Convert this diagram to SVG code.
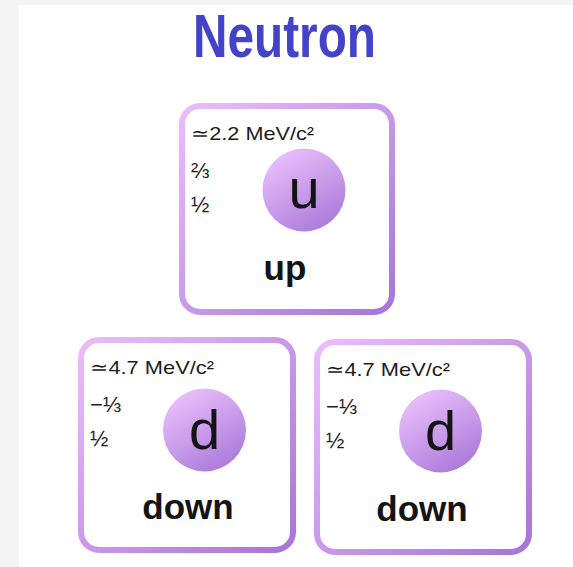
<svg xmlns="http://www.w3.org/2000/svg" width="573" height="567" viewBox="0 0 573 567">
<defs>
<linearGradient id="gStroke" x1="0" y1="0" x2="1" y2="1">
<stop offset="0" stop-color="#ebbdfb"/>
<stop offset="1" stop-color="#a874d9"/>
</linearGradient>
<linearGradient id="gCircle" x1="0.2" y1="0" x2="0.8" y2="1">
<stop offset="0" stop-color="#ecc2fc"/>
<stop offset="1" stop-color="#a877d8"/>
</linearGradient>
<style>
.box{fill:#ffffff;stroke:url(#gStroke);stroke-width:6}
.ball{fill:url(#gCircle)}
.small{font-family:"Liberation Sans",Arial,sans-serif;font-size:19px;fill:#1c1c1c}
.frac{font-family:"Liberation Sans",Arial,sans-serif;font-size:22px;fill:#1c1c1c}
.sym{font-family:"Liberation Sans",Arial,sans-serif;font-size:56px;fill:#141414;text-anchor:middle}
.name{font-family:"Liberation Sans",Arial,sans-serif;font-size:35px;font-weight:bold;fill:#141414;text-anchor:middle}
.title{font-family:"Liberation Sans",Arial,sans-serif;font-size:61px;font-weight:bold;fill:#4343c9;text-anchor:middle}
</style>
</defs>
<rect x="0" y="0" width="573" height="567" fill="#f4f4f4"/>
<rect x="19" y="5" width="554" height="562" fill="#ffffff"/>
<text class="title" x="284.5" y="57" textLength="183" lengthAdjust="spacingAndGlyphs">Neutron</text>
<g id="up">
<rect class="box" x="182" y="106" width="210" height="206" rx="18"/>
<text class="small" x="191" y="140" textLength="123" lengthAdjust="spacingAndGlyphs">≃2.2 MeV/c²</text>
<text class="frac" x="191" y="178">⅔</text>
<text class="frac" x="191" y="212">½</text>
<circle class="ball" cx="304" cy="190" r="41.5"/>
<text class="sym" x="304" y="208">u</text>
<text class="name" x="285" y="280">up</text>
</g>
<g id="down1">
<rect class="box" x="81" y="340" width="212" height="210" rx="18"/>
<text class="small" x="90" y="374" textLength="124" lengthAdjust="spacingAndGlyphs">≃4.7 MeV/c²</text>
<text class="frac" x="90" y="412">−⅓</text>
<text class="frac" x="90" y="446">½</text>
<circle class="ball" cx="204.5" cy="430" r="41.5"/>
<text class="sym" x="204.5" y="449">d</text>
<text class="name" x="188" y="519">down</text>
</g>
<g id="down2">
<rect class="box" x="317" y="342" width="212" height="210" rx="18"/>
<text class="small" x="326" y="376" textLength="124" lengthAdjust="spacingAndGlyphs">≃4.7 MeV/c²</text>
<text class="frac" x="326" y="414">−⅓</text>
<text class="frac" x="326" y="448">½</text>
<circle class="ball" cx="440.5" cy="431" r="41.5"/>
<text class="sym" x="440.5" y="450">d</text>
<text class="name" x="422" y="521">down</text>
</g>
<g id="connectors"/>
</svg>
